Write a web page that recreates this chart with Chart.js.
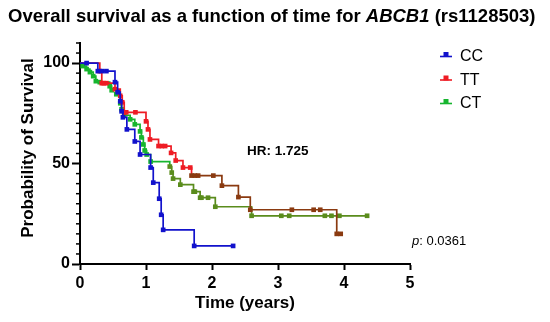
<!DOCTYPE html>
<html>
<head>
<meta charset="utf-8">
<script src="https://cdn.jsdelivr.net/npm/chart.js@4/dist/chart.umd.min.js"></script>
<style>
html,body{margin:0;padding:0;background:#fff;}
#wrap{position:relative;width:550px;height:322px;}
</style>
</head>
<body>
<div id="wrap"><canvas id="c" width="550" height="322"></canvas></div>
<script>
// ---- data (time in years, survival in %) ----
const seriesLabels = ['CC', 'TT', 'CT'];

const ccTime = [0, 0.10, 0.27, 0.33, 0.40, 0.53, 0.57, 0.61, 0.63, 0.65, 0.71, 0.83, 0.91, 1.07, 1.11, 1.20, 1.23, 1.26, 1.73, 2.32];
const ccSurv = [100, 100, 96, 96, 96, 90.5, 85.5, 81, 76, 73, 67, 61, 54.5, 48, 40.5, 32.5, 24.5, 17, 9, 9];

const ttTime = [0, 0.30, 0.33, 0.36, 0.40, 0.53, 0.61, 0.64, 0.67, 0.70, 0.84, 1.00, 1.03, 1.06, 1.19, 1.24, 1.29, 1.38, 1.45, 1.56, 1.67, 1.69, 1.74, 1.79, 2.02, 2.15, 2.40, 2.58, 3.21, 3.54, 3.64, 3.89, 3.95];
const ttSurv = [100, 96, 90, 90, 90, 87, 83.7, 80.5, 75.5, 75.5, 75.5, 71, 67, 62, 58.7, 58.7, 58.7, 55.3, 51.5, 48, 48, 44, 44, 44, 44, 39, 33.3, 27, 27, 27, 27, 15, 15];

const ctTime = [0, 0.04, 0.10, 0.15, 0.20, 0.24, 0.30, 0.45, 0.48, 0.55, 0.61, 0.63, 0.67, 0.76, 0.83, 0.91, 0.93, 0.96, 0.98, 1.01, 1.07, 1.36, 1.39, 1.41, 1.52, 1.72, 1.74, 1.82, 1.84, 1.94, 2.05, 2.60, 3.05, 3.17, 3.71, 3.81, 3.93, 4.35];
const ctSurv = [100, 98.5, 97, 95.5, 93.5, 91, 90.5, 88.5, 86.5, 84.5, 80, 77, 74, 72, 69.5, 66, 63, 59.5, 56.5, 54.5, 51, 48.5, 45.5, 42.5, 39.5, 36, 36, 33, 33, 33, 28.5, 24, 24, 24, 24, 24, 24, 24];

const xTickValues = [0, 1, 2, 3, 4, 5];
const yLabelValues = [0, 50, 100];
const hrText = 'HR: 1.725';
const pText = '0.0361';

// ---- styling ----
const FONT = "'Liberation Sans', Arial, Helvetica, sans-serif";
const BLUE = '#1212cc', RED = '#ee1c24', GREEN = '#16b52e';
const BROWN = '#8a3a10', OLIVE = '#5a8c1c';

function toPts(t, s) { return t.map((v, i) => ({x: v, y: s[i]})); }

function mkSet(label, t, s, col, darkCol, thr) {
  const pick = x => (thr !== null && x >= thr) ? darkCol : col;
  return {
    label: label,
    data: toPts(t, s),
    stepped: true,
    borderWidth: 1.7,
    borderColor: col,
    segment: { borderColor: c => pick(c.p0.parsed.x + 0.001) },
    pointStyle: 'rect',
    pointRadius: c => c.dataIndex === 0 ? 0 : 3.3,
    pointBorderWidth: 0,
    pointBackgroundColor: c => pick(c.parsed ? c.parsed.x : 0),
    pointBorderColor: c => pick(c.parsed ? c.parsed.x : 0),
    fill: false,
    tension: 0,
    legendColor: col
  };
}

const datasets = [
  mkSet(seriesLabels[0], ccTime, ccSurv, BLUE, BLUE, null),
  mkSet(seriesLabels[1], ttTime, ttSurv, RED, BROWN, 1.68),
  mkSet(seriesLabels[2], ctTime, ctSurv, GREEN, OLIVE, 1.36)
];

const decor = {
  id: 'decor',
  afterDraw(chart) {
    const c = chart.ctx;
    const xs = chart.scales.x, ys = chart.scales.y;
    c.save();
    // minor y ticks
    c.strokeStyle = '#000';
    c.lineWidth = 1.5;
    const ax = Math.round(xs.left);
    for (let v = 0; v <= 110; v += 5) {
      if (yLabelValues.includes(v)) continue;
      const py = ys.getPixelForValue(v);
      c.beginPath(); c.moveTo(ax - 4, py); c.lineTo(ax, py); c.stroke();
    }
    // y axis title
    c.save();
    c.translate(28, 148);
    c.rotate(-Math.PI / 2);
    c.fillStyle = '#000';
    c.font = 'bold 17px ' + FONT;
    c.textAlign = 'center';
    c.textBaseline = 'middle';
    c.fillText('Probability of Survival', 0, 0);
    c.restore();
    // title
    c.fillStyle = '#000';
    c.textBaseline = 'alphabetic';
    c.textAlign = 'left';
    const parts = [
      ['Overall survival as a function of time for ', 'bold'],
      ['ABCB1', 'italic bold'],
      [' (rs1128503)', 'bold']
    ];
    let tx = 8;
    for (const [s, st] of parts) {
      c.font = st + ' 18.5px ' + FONT;
      c.fillText(s, tx, 22);
      tx += c.measureText(s).width;
    }
    // legend
    const lx = 440, ly0 = 56, dy = 23.5;
    chart.data.datasets.forEach((d, i) => {
      const y = ly0 + i * dy;
      c.strokeStyle = d.legendColor; c.fillStyle = d.legendColor;
      c.lineWidth = 1.6;
      c.beginPath(); c.moveTo(lx, y + 0.5); c.lineTo(lx + 12, y + 0.5); c.stroke();
      c.fillRect(lx + 3.5, y - 4, 5, 5);
      c.fillStyle = '#000';
      c.font = '16px ' + FONT;
      c.textBaseline = 'middle';
      c.fillText(d.label, 460, y + 1);
    });
    // HR
    c.font = 'bold 13.5px ' + FONT;
    c.textBaseline = 'middle';
    c.fillText(hrText, xs.getPixelForValue(2.53), ys.getPixelForValue(56));
    // p value
    let px = xs.getPixelForValue(5.03);
    const py = ys.getPixelForValue(11.2);
    c.font = 'italic 13px ' + FONT;
    c.fillText('p', px, py);
    px += c.measureText('p').width;
    c.font = '13px ' + FONT;
    c.fillText(': ' + pText, px, py);
    c.restore();
  }
};

new Chart(document.getElementById('c'), {
  type: 'line',
  data: { datasets: datasets },
  options: {
    responsive: false,
    animation: false,
    events: [],
    layout: { padding: { top: 43, right: 140, left: 0, bottom: 0 } },
    plugins: { legend: { display: false }, tooltip: { enabled: false }, title: { display: false } },
    scales: {
      x: {
        type: 'linear', min: 0, max: 5,
        afterBuildTicks: s => { s.ticks = xTickValues.map(v => ({value: v})); },
        ticks: { color: '#000', font: { family: FONT, size: 16, weight: 'bold' }, padding: 4, maxRotation: 0, autoSkip: false },
        grid: { drawOnChartArea: false, drawTicks: true, tickLength: 6, tickColor: '#000', tickWidth: 2 },
        border: { color: '#000', width: 2 },
        title: { display: true, text: 'Time (years)', color: '#000', font: { family: FONT, size: 17, weight: 'bold' }, padding: { top: 0, bottom: 8 } },
        afterFit: s => { s.height = 58; }
      },
      y: {
        type: 'linear', min: 0, max: 110,
        afterBuildTicks: s => { s.ticks = yLabelValues.map(v => ({value: v})); },
        ticks: { color: '#000', font: { family: FONT, size: 16, weight: 'bold' }, padding: 2, autoSkip: false },
        grid: { drawOnChartArea: false, drawTicks: true, tickLength: 8, tickColor: '#000', tickWidth: 2 },
        border: { color: '#000', width: 2 },
        title: { display: false },
        afterFit: s => { s.width = 80; }
      }
    }
  },
  plugins: [decor]
});
</script>
</body>
</html>
